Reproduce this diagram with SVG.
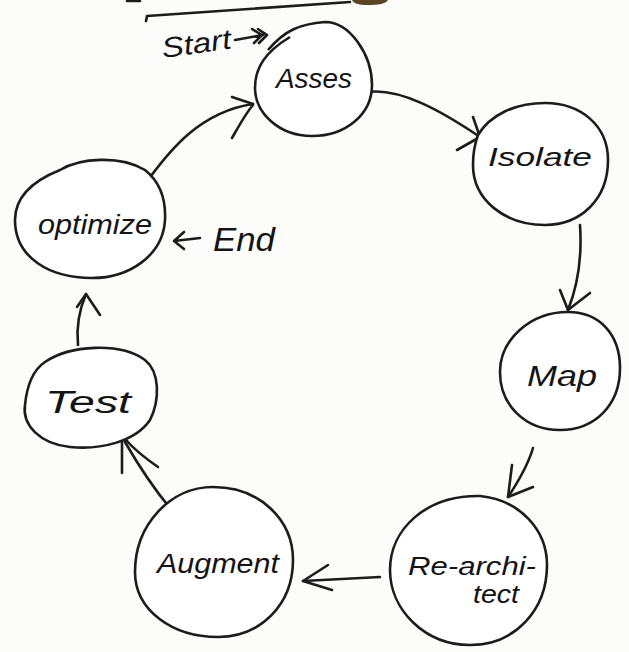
<svg xmlns="http://www.w3.org/2000/svg" width="629" height="652" viewBox="0 0 629 652">
  <style>
    .ink { fill: none; stroke: #1c1c1c; stroke-width: 2.6; stroke-linecap: round; stroke-linejoin: round; }
    .node { fill: #ffffff; stroke: #1c1c1c; stroke-width: 2.6; stroke-linejoin: round; }
    .lbl { font-family: "Liberation Sans", "DejaVu Sans", sans-serif; font-style: italic; fill: #141414; }
  </style>
  <rect width="629" height="652" fill="#fcfcfb"/>

  <!-- heading underline and mark at the top edge -->
  <g id="heading">
    <path class="ink" d="M 146,21 L 147,16 C 210,12 280,7 350,2" stroke-width="3"/>
    <path class="ink" d="M 127,1 L 140,1"/>
    <path d="M 352,0 L 388,0 C 386,4 378,5 368,5 C 358,5 353,3 352,0 Z" fill="#5b4520"/>
  </g>

  <!-- connectors -->
  <g id="connectors">
    <!-- Asses to Isolate -->
    <path class="ink" d="M 368,92 C 400,88 440,110 480,137"/>
    <path class="ink" d="M 473,117 L 480,137 L 457,150"/>
    <!-- Isolate to Map -->
    <path class="ink" d="M 580,225 C 582,255 578,285 568,310"/>
    <path class="ink" d="M 560,290 L 568,310 L 590,293"/>
    <!-- Map to Re-architect -->
    <path class="ink" d="M 533,448 C 528,465 518,482 508,497"/>
    <path class="ink" d="M 512,465 L 508,497 L 533,487"/>
    <!-- Re-architect to Augment -->
    <path class="ink" d="M 380,577 L 303,581"/>
    <path class="ink" d="M 328,565 L 303,581 L 332,590"/>
    <!-- Augment to Test -->
    <path class="ink" d="M 180,505 C 175,503 171,505 170,508 C 155,490 140,468 125,442"/>
    <path class="ink" d="M 122,473 L 122,440 M 158,467 C 145,458 133,448 126,440"/>
    <!-- Test to optimize -->
    <path class="ink" d="M 78,345 C 76,325 80,308 86,294"/>
    <path class="ink" d="M 77,307 L 86,294 L 100,315"/>
    <!-- optimize to Asses -->
    <path class="ink" d="M 148,180 C 170,150 200,112 253,104"/>
    <path class="ink" d="M 232,97 L 253,104 M 232,138 C 240,124 246,113 253,105"/>
  </g>

  <g id="start">
    <text class="lbl" x="163" y="58" font-size="28" transform="rotate(-8 163 58)" textLength="70" lengthAdjust="spacingAndGlyphs">Start</text>
    <path class="ink" d="M 235,40 L 263,35 M 252,29 L 262,35 L 254,43 M 258,29 L 267,35 L 259,43"/>
  </g>

  <g id="end">
    <path class="ink" d="M 200,238 L 174,241 M 184,232 L 174,241 L 184,249"/>
    <text class="lbl" x="213" y="251" font-size="34" textLength="62" lengthAdjust="spacingAndGlyphs">End</text>
  </g>

  <g id="asses">
    <path class="node" d="M 268,50 C 285,30 300,24 325,22 C 350,22 372,55 372,85 C 372,115 345,136 312,136 C 278,136 255,112 255,88 C 255,68 265,52 290,37"/>
    <text class="lbl" x="314" y="88" font-size="28" text-anchor="middle" textLength="76" lengthAdjust="spacingAndGlyphs">Asses</text>
  </g>

  <g id="isolate">
    <path class="node" d="M 478,135 C 490,115 515,103 545,103 C 580,103 608,125 608,160 C 608,200 580,225 545,225 C 505,225 473,200 473,165 C 473,152 475,143 478,135 Z"/>
    <text class="lbl" x="540" y="166" font-size="26" text-anchor="middle" textLength="104" lengthAdjust="spacingAndGlyphs">Isolate</text>
  </g>

  <g id="optimize">
    <path class="node" d="M 60,170 C 80,158 120,155 145,170 C 160,182 166,200 165,220 C 163,255 130,278 92,278 C 50,278 15,258 15,220 C 15,195 35,180 60,170 Z"/>
    <text class="lbl" x="95" y="234" font-size="28" text-anchor="middle" textLength="114" lengthAdjust="spacingAndGlyphs">optimize</text>
  </g>

  <g id="map">
    <path class="node" d="M 568,312 C 600,312 620,335 620,368 C 620,405 595,430 560,430 C 525,430 500,405 500,372 C 500,340 530,312 568,312 Z"/>
    <text class="lbl" x="562" y="386" font-size="30" text-anchor="middle" textLength="70" lengthAdjust="spacingAndGlyphs">Map</text>
  </g>

  <g id="test">
    <path class="node" d="M 45,362 C 70,345 120,342 145,360 C 160,372 160,400 150,420 C 135,442 100,450 70,447 C 40,444 22,425 25,405 C 27,385 33,370 45,362 Z"/>
    <text class="lbl" x="88" y="413" font-size="31" text-anchor="middle" textLength="86" lengthAdjust="spacingAndGlyphs">Test</text>
  </g>

  <g id="augment">
    <path class="node" d="M 213,487 C 260,487 293,520 293,560 C 293,605 260,637 218,637 C 172,637 135,610 135,572 C 135,525 170,487 213,487 Z"/>
    <text class="lbl" x="218" y="573" font-size="28" text-anchor="middle" textLength="122" lengthAdjust="spacingAndGlyphs">Augment</text>
  </g>

  <g id="rearchitect">
    <path class="node" d="M 480,496 C 520,500 547,530 547,565 C 547,610 515,645 470,645 C 425,645 390,610 390,570 C 390,530 425,495 480,496 Z"/>
    <text class="lbl" x="472" y="575" font-size="26" text-anchor="middle" textLength="128" lengthAdjust="spacingAndGlyphs">Re-archi-</text>
    <text class="lbl" x="496" y="603" font-size="26" text-anchor="middle" textLength="46" lengthAdjust="spacingAndGlyphs">tect</text>
  </g>
</svg>
